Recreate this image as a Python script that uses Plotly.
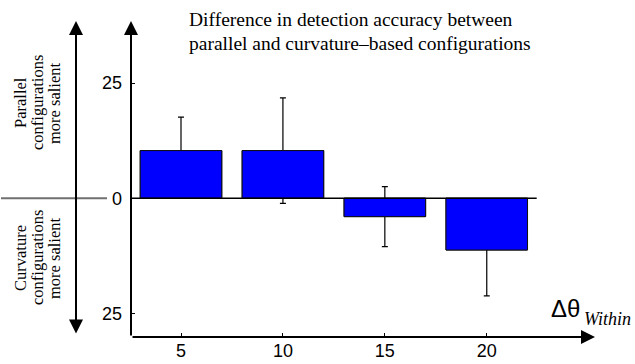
import plotly.graph_objects as go

# Orientation difference within configurations (degrees)
delta_within = [5, 10, 15, 20]
# Parallel minus curvature detection accuracy (%), with error bars
accuracy_diff = [10.35, 10.35, -4.0, -11.25]
accuracy_err = [7.25, 11.45, 6.5, 9.95]

x_tickvals = [5, 10, 15, 20]
y_tickvals = [-25, 0, 25]
y_ticktext = ["25", "0", "25"]

title_lines = ["Difference in detection accuracy between",
               "parallel and curvature\u2013based configurations"]
upper_label = ["Parallel", "configurations", "more salient"]
lower_label = ["Curvature", "configurations", "more salient"]

W, H = 635, 364
L, R, T, B = 131, 40, 21, 27
XR = [2.547, 25.31]
YR = [-30.15, 38.5]
ZERO_LINE_END = 22.45

SERIF = "Liberation Serif, Times New Roman, serif"
SANS = "Liberation Sans, Arial, Helvetica, sans-serif"


def px_x(px):
    return (px - L) / (W - L - R)


def px_y(py):
    return (H - B - py) / (H - T - B)


bar_style = dict(color="#0000ff", line=dict(color="#111111", width=1))

fig = go.Figure()
# bars with error bars, then the same bars again on top so the
# error bar segments inside each bar stay hidden
fig.add_trace(go.Bar(
    x=delta_within, y=accuracy_diff, width=4, marker=bar_style,
    error_y=dict(type="data", array=accuracy_err, visible=True,
                 color="black", thickness=1.2, width=3),
    showlegend=False, hoverinfo="skip"))
fig.add_trace(go.Bar(
    x=delta_within, y=accuracy_diff, width=4, marker=bar_style,
    showlegend=False, hoverinfo="skip"))

zero_paper = (0 - YR[0]) / (YR[1] - YR[0])
shapes = [
    # zero reference line across the bars
    dict(type="line", xref="x", yref="y", x0=XR[0], x1=ZERO_LINE_END,
         y0=0, y1=0, line=dict(color="black", width=1.5)),
    # divider between the two side captions
    dict(type="line", xref="paper", yref="paper", x0=px_x(1), x1=px_x(107),
         y0=zero_paper, y1=zero_paper, line=dict(color="#707070", width=2)),
]

annotations = []
# y axis with arrow
annotations.append(dict(xref="paper", yref="paper", x=0, y=1, ax=0, ay=H - T - B,
                        axref="pixel", ayref="pixel", text="", showarrow=True,
                        arrowhead=2, arrowsize=1.4, arrowwidth=2, arrowcolor="black",
                        standoff=0, startstandoff=0))
# x axis with arrow
annotations.append(dict(xref="paper", yref="paper", x=1, y=0, ax=-(W - L - R), ay=0,
                        axref="pixel", ayref="pixel", text="", showarrow=True,
                        arrowhead=2, arrowsize=1.4, arrowwidth=2, arrowcolor="black",
                        standoff=0, startstandoff=0))
# double-headed arrow beside the captions
annotations.append(dict(xref="paper", yref="paper", x=px_x(76), y=px_y(21),
                        ax=0, ay=335 - 21, axref="pixel", ayref="pixel", text="",
                        showarrow=True, arrowhead=2, startarrowhead=2,
                        arrowside="end+start", arrowsize=1.4, startarrowsize=1.4,
                        arrowwidth=2, arrowcolor="black", standoff=0, startstandoff=0))

for text, cy in zip(title_lines, [20, 43]):
    annotations.append(dict(xref="paper", yref="paper", x=px_x(187), y=px_y(cy),
                            xanchor="left", yanchor="middle", showarrow=False,
                            text=text, font=dict(family=SERIF, size=19.5, color="black")))

for block, cy in [(upper_label, 103), (lower_label, 258)]:
    for text, cx in zip(block, [20, 37, 54]):
        annotations.append(dict(xref="paper", yref="paper", x=px_x(cx), y=px_y(cy),
                                xanchor="center", yanchor="middle", showarrow=False,
                                textangle=-90, text=text,
                                font=dict(family=SERIF, size=16.5, color="black")))

# axis label: delta theta within
annotations.append(dict(xref="paper", yref="paper", x=px_x(549), y=px_y(308),
                        xanchor="left", yanchor="middle", showarrow=False,
                        text="\u0394\u03b8", font=dict(family=SANS, size=24, color="black")))
annotations.append(dict(xref="paper", yref="paper", x=px_x(582), y=px_y(319),
                        xanchor="left", yanchor="middle", showarrow=False,
                        text="<i>Within</i>", font=dict(family=SERIF, size=18, color="black")))

axis_common = dict(showgrid=False, zeroline=False, showline=False, automargin=False,
                   ticks="inside", ticklen=4, tickwidth=1, tickcolor="black",
                   tickfont=dict(family=SANS, size=18, color="black"))

fig.update_layout(
    width=W, height=H,
    margin=dict(l=L, r=R, t=T, b=B),
    paper_bgcolor="white", plot_bgcolor="white",
    barmode="overlay",
    shapes=shapes, annotations=annotations,
    xaxis=dict(range=XR, tickvals=x_tickvals, ticklabelstandoff=1, **axis_common),
    yaxis=dict(range=YR, tickvals=y_tickvals, ticktext=y_ticktext,
               ticklabelstandoff=8, **axis_common),
)

fig.write_html("out.html")
